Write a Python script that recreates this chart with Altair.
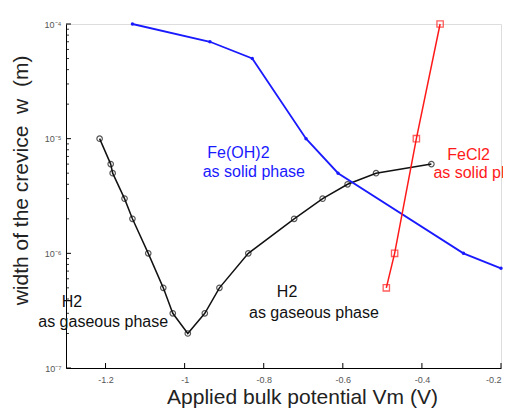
import altair as alt
import pandas as pd

# ---------------- data ----------------
# H2 (gaseous phase) curve, black open circles
h2_v = [-1.215, -1.187, -1.182, -1.152, -1.132, -1.092, -1.054, -1.030, -0.992,
        -0.949, -0.912, -0.839, -0.723, -0.651, -0.588, -0.516, -0.376]
h2_w = [1.0e-5, 6e-6, 5e-6, 3e-6, 2e-6, 1e-6, 5e-7, 3e-7, 2e-7,
        3e-7, 5e-7, 1e-6, 2e-6, 3e-6, 4e-6, 5e-6, 6e-6]

# Fe(OH)2 (solid phase), blue with small dots
feoh_v = [-1.132, -0.936, -0.829, -0.693, -0.612, -0.295, -0.200]
feoh_w = [1e-4, 7e-5, 5e-5, 1e-5, 5e-6, 1e-6, 7.4e-7]

# FeCl2 (solid phase), red open squares
fecl_v = [-0.490, -0.469, -0.414, -0.354]
fecl_w = [5e-7, 1e-6, 1e-5, 1e-4]

# axis ticks
x_ticks = [-1.2, -1, -0.8, -0.6, -0.4, -0.2]
y_major = [1e-7, 1e-6, 1e-5, 1e-4]
y_minor = [m * d for d in [1e-7, 1e-6, 1e-5] for m in range(2, 10)]

# annotations
blue_txt = ["Fe(OH)2", "as solid phase"]
blue_tv = [-0.864, -0.825]
blue_tw = [7.5e-6, 5.1e-6]

red_txt = ["FeCl2", "as solid phase"]
red_tv = [-0.336, -0.371]
red_tw = [7.2e-6, 5.0e-6]

black_txt = ["H2", "as gaseous phase", "H2", "as gaseous phase"]
black_tv = [-1.285, -1.206, -0.741, -0.673]
black_tw = [3.77e-7, 2.52e-7, 4.6e-7, 3.02e-7]

x_title = "Applied bulk potential Vm (V)"
y_title = "width of the crevice\u00a0\u00a0w\u00a0\u00a0(m)"

# ---------------- tables ----------------
h2 = pd.DataFrame({"v": h2_v, "w": h2_w, "i": range(len(h2_v))})
feoh = pd.DataFrame({"v": feoh_v, "w": feoh_w, "i": range(len(feoh_v))})
fecl = pd.DataFrame({"v": fecl_v, "w": fecl_w, "i": range(len(fecl_v))})
xt = pd.DataFrame({"v": x_ticks})
ymaj = pd.DataFrame({"w": y_major})
ymin = pd.DataFrame({"w": y_minor})
tb = pd.DataFrame({"t": blue_txt, "v": blue_tv, "w": blue_tw})
tr = pd.DataFrame({"t": red_txt, "v": red_tv, "w": red_tw})
tk = pd.DataFrame({"t": black_txt, "v": black_tv, "w": black_tw})

W, H = 435, 344
FONT = "Liberation Sans"

xs = alt.Scale(domain=[-1.3, -0.2], nice=False, zero=False)
ys = alt.Scale(type="log", domain=[1e-7, 1e-4], nice=False)

x_axis = alt.Axis(
    values=x_ticks, labelExpr="'' + datum.value", ticks=False, grid=False,
    domainColor="black", domainWidth=1, labelFont=FONT, labelFontSize=9,
    labelColor="#555", labelPadding=7,
    titleFont=FONT, titleFontSize=21,
    titleFontWeight="normal", titleColor="#222", titleX=236, titleY=35,
    titleAlign="center", titleBaseline="alphabetic",
)
y_axis = alt.Axis(
    values=y_major,
    labelExpr="'10' + (datum.value < 5e-7 ? '⁻⁷' : datum.value < 5e-6 ? '⁻⁶' : datum.value < 5e-5 ? '⁻⁵' : '⁻⁴')",
    ticks=False, grid=False, domainColor="black", domainWidth=1,
    labelFont=FONT, labelFontSize=9, labelColor="#555", labelPadding=5,
    titleFont=FONT, titleFontSize=21,
    titleFontWeight="normal", titleColor="#222", titleAngle=270,
    titleX=-39, titleY=156, titleAlign="center", titleBaseline="alphabetic",
)

X = alt.X("v:Q", scale=xs, axis=x_axis, title=x_title)
Y = alt.Y("w:Q", scale=ys, axis=y_axis, title=y_title)

# inward ticks
ytick_major = alt.Chart(ymaj).mark_rule(color="black", strokeWidth=1).encode(
    y=Y, x=alt.value(0), x2=alt.value(5))
ytick_minor = alt.Chart(ymin).mark_rule(color="black", strokeWidth=0.8).encode(
    y=Y, x=alt.value(0), x2=alt.value(3))
xtick = alt.Chart(xt).mark_rule(color="black", strokeWidth=1).encode(
    x=X, y=alt.value(H), y2=alt.value(H - 5))

# series
h2_line = alt.Chart(h2).mark_line(color="#111", strokeWidth=1.5).encode(
    x=X, y=Y, order="i:Q")
h2_pts = alt.Chart(h2).mark_point(shape="circle", size=30, color="#111",
                                  filled=False, strokeWidth=1.2).encode(x=X, y=Y)

feoh_line = alt.Chart(feoh).mark_line(color="#1a1aff", strokeWidth=1.8).encode(
    x=X, y=Y, order="i:Q")
feoh_pts = alt.Chart(feoh).mark_point(shape="circle", size=12, color="#1a1aff",
                                      filled=True, opacity=1).encode(x=X, y=Y)

fecl_line = alt.Chart(fecl).mark_line(color="#ff1a1a", strokeWidth=1.5).encode(
    x=X, y=Y, order="i:Q")
fecl_pts = alt.Chart(fecl).mark_point(shape="square", size=40, color="#ff1a1a",
                                      filled=False, strokeWidth=1.3).encode(x=X, y=Y)

# annotations
t_blue = alt.Chart(tb).mark_text(font=FONT, fontSize=16, color="#1a1aff",
                                 align="center", baseline="middle").encode(
    x=X, y=Y, text="t:N")
t_red = alt.Chart(tr).mark_text(font=FONT, fontSize=16, color="#ff1a1a",
                                align="left", baseline="middle").encode(
    x=X, y=Y, text="t:N")
t_black = alt.Chart(tk).mark_text(font=FONT, fontSize=16, color="#111",
                                  align="center", baseline="middle").encode(
    x=X, y=Y, text="t:N")

chart = alt.layer(
    h2_line, ytick_major, ytick_minor, xtick,
    feoh_line, feoh_pts, fecl_line, fecl_pts, h2_pts,
    t_blue, t_red, t_black,
).properties(
    width=W, height=H,
    autosize=alt.AutoSizeParams(type="none"),
    padding={"left": 58, "top": 16, "right": 2, "bottom": 40},
).configure_view(stroke=None).configure(background="white")

chart.save("out.html", embed_options={"renderer": "svg", "actions": False})
